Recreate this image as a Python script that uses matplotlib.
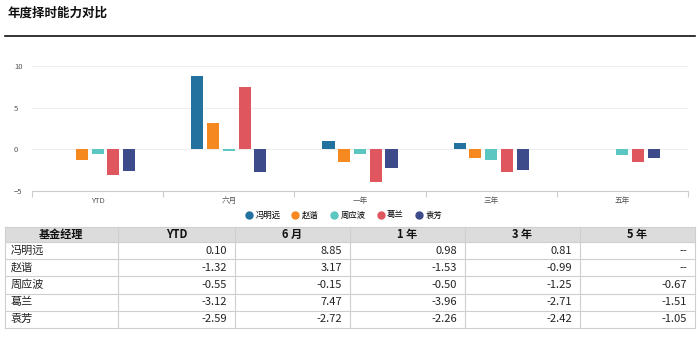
import numpy as np
import matplotlib.pyplot as plt
from matplotlib.patches import Rectangle

plt.rcParams['font.family'] = ['Noto Sans CJK SC', 'DejaVu Sans']

periods = ["YTD", "六月", "一年", "三年", "五年"]
table_cols = ["基金经理", "YTD", "6 月", "1 年", "3 年", "5 年"]
managers = ["冯明远", "赵谐", "周应波", "葛兰", "袁芳"]
colors = ["#22719e", "#f5891f", "#5cc6c0", "#e0565e", "#3d4b8a"]

fmy = [0.10, 8.85, 0.98, 0.81, np.nan]
zx = [-1.32, 3.17, -1.53, -0.99, np.nan]
zyb = [-0.55, -0.15, -0.50, -1.25, -0.67]
gl = [-3.12, 7.47, -3.96, -2.71, -1.51]
yf = [-2.59, -2.72, -2.26, -2.42, -1.05]
series = [fmy, zx, zyb, gl, yf]

fig = plt.figure(figsize=(7, 3.51), dpi=100)
W, H = 700, 351


def fr(x0, y0, x1, y1):
    # pixel box -> figure fraction rect
    return [x0 / W, 1 - y1 / H, (x1 - x0) / W, (y1 - y0) / H]


fig.text(8 / W, 1 - 13 / H, "年度择时能力对比", fontsize=9, fontweight='bold',
         va='center', ha='left', color='#111111')
fig.add_artist(plt.Line2D([5 / W, 695 / W], [1 - 36 / H, 1 - 36 / H],
                          color='#111111', lw=1.2))

# bar chart
ax = fig.add_axes(fr(32, 66, 688, 191))
x = np.arange(len(periods))
bw = 0.092
step = 0.12
for i, (name, vals) in enumerate(zip(managers, series)):
    ax.bar(x + (i - 2) * step, vals, width=bw, color=colors[i], label=name,
           zorder=3)
ax.set_xlim(-0.5, len(periods) - 0.5)
ax.set_ylim(-5, 10)
ax.set_yticks([-5, 0, 5, 10])
ax.set_xticks(x)
ax.set_xticklabels(periods)
ax.set_xticks(np.arange(-0.5, len(periods), 1), minor=True)
ax.tick_params(axis='x', which='major', length=0, labelsize=5.5,
               labelcolor='#555555', pad=4)
ax.tick_params(axis='x', which='minor', length=4, color='#cccccc', width=0.8)
ax.tick_params(axis='y', length=0, labelsize=5.5, labelcolor='#555555', pad=13)
for lab in ax.get_yticklabels():
    lab.set_horizontalalignment('left')
ax.grid(axis='y', color='#eeeeee', lw=0.8, zorder=0)
for s in ['top', 'right', 'left']:
    ax.spines[s].set_visible(False)
ax.spines['bottom'].set_color('#cccccc')
ax.spines['bottom'].set_linewidth(0.8)

handles = [plt.Line2D([], [], marker='o', ls='', color=c, markersize=5)
           for c in colors]
fig.legend(handles, managers, loc='center', bbox_to_anchor=(343 / W, 1 - 215 / H),
           ncol=5, frameon=False, fontsize=6, handletextpad=0.2,
           columnspacing=1.2, handlelength=1.2)

# table
tax = fig.add_axes(fr(5, 227, 695, 343))
tax.set_xlim(0, 6)
tax.set_ylim(5.9, -0.9)
tax.axis('off')
col_edges = [0, 0.98, 2.0, 3.0, 4.0, 5.0, 6.0]
row_edges = [-0.9, 0, 1, 2, 3, 4, 5.0]
tax.add_patch(Rectangle((0, -0.9), 6, 0.9, facecolor='#dcdcdc', edgecolor='none'))
for xe in col_edges:
    tax.plot([xe, xe], [-0.9, 5.0], color='#cfcfcf', lw=0.8, clip_on=False)
for ye in row_edges:
    tax.plot([0, 6], [ye, ye], color='#cfcfcf', lw=0.8, clip_on=False)
for j, c in enumerate(table_cols):
    tax.text((col_edges[j] + col_edges[j + 1]) / 2, -0.45, c, ha='center',
             va='center', fontsize=8, fontweight='bold', color='#111111')
for i, name in enumerate(managers):
    yc = i + 0.5
    tax.text(0.05, yc, name, ha='left', va='center', fontsize=8, color='#222222')
    for j, v in enumerate(series[i]):
        txt = "--" if np.isnan(v) else "%.2f" % v
        tax.text(col_edges[j + 2] - 0.07, yc, txt, ha='right', va='center',
                 fontsize=8, color='#222222')

plt.savefig("out.png", dpi=100)
